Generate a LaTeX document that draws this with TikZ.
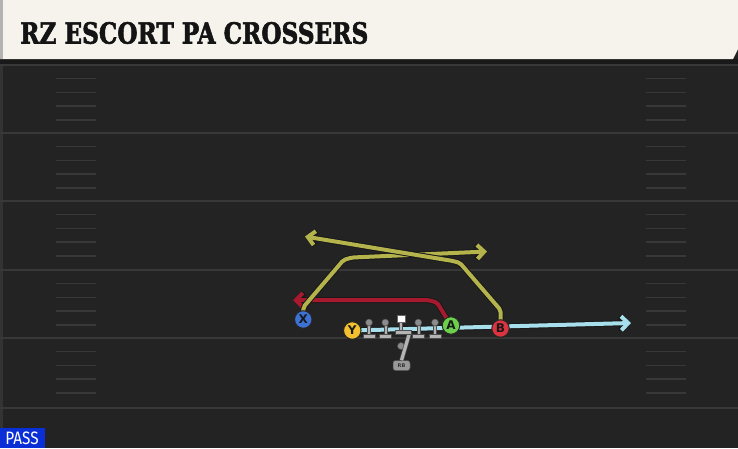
\documentclass[tikz,border=0pt]{standalone}
\usepackage{fontspec}
\setmainfont{DejaVu Serif}
\newfontfamily\titlefont[BoldFeatures={FakeBold=2.2}]{DejaVu Serif}
\newfontfamily\lblfont{DejaVu Sans}
\newfontfamily\passfont{Fira Sans}
\usetikzlibrary{arrows.meta}
\definecolor{fieldbg}{HTML}{232323}
\definecolor{fieldline}{HTML}{383838}
\definecolor{hdr}{HTML}{F5F3EC}
\definecolor{olive}{HTML}{B4B34C}
\definecolor{routered}{HTML}{A6192E}
\definecolor{routecyan}{HTML}{A8DFEC}
\definecolor{xblue}{HTML}{3C72D4}
\definecolor{yyellow}{HTML}{F2C12E}
\definecolor{agreen}{HTML}{6CD04A}
\definecolor{bred}{HTML}{DB3340}
\definecolor{olgray}{HTML}{B4B4B4}
\definecolor{olgraydk}{HTML}{8C8C8C}
\definecolor{passblue}{HTML}{0B2FD6}
\tikzset{
  yardline/.style={draw=fieldline, line width=2pt},
  hashline/.style={draw=fieldline, line width=1.5pt},
  player/.style={circle, draw=black!85, line width=1pt, minimum size=17.5pt, inner sep=0pt, font=\lblfont\bfseries\fontsize{12}{12}\selectfont, text=black!90},
  routeout/.style={draw=black!90, line width=6pt, rounded corners=2pt},
  routein/.style={line width=4pt, rounded corners=2pt},
  tip/.style={-{Straight Barb[length=7pt,width=14pt]}},
  olbody/.style={fill=olgray, draw=black!70, line width=0.5pt},
}
\begin{document}
\begin{tikzpicture}[x=1pt,y=-1pt]
\useasboundingbox (0,0) rectangle (738,448);
% field
\fill[fieldbg] (0,0) rectangle (738,448);
\fill[black!80] (0,59) rectangle (2.5,448);
\fill[black!90] (0,59) rectangle (738,64);
\foreach \y in {65,133,201,270,338,408} \draw[yardline] (0,\y) -- (738,\y);
\foreach \y in {65,133,201,270,338} {
  \foreach \k in {1,2,3,4} {
    \draw[hashline] (56,\y+\k*13.7) -- (96,\y+\k*13.7);
    \draw[hashline] (646,\y+\k*13.7) -- (686,\y+\k*13.7);
  }
}
% header
\fill[hdr] (0,0) -- (738,0) -- (738,49) -- (733,59) -- (0,59) -- cycle;
\fill[black!30] (0,0) rectangle (3,59);
\node[anchor=west, inner sep=0pt, text=black!92] (title) at (20,33)
  {\scalebox{0.8}[1]{\titlefont\bfseries\fontsize{29}{29}\selectfont RZ ESCORT PA CROSSERS}};
% pass label
\fill[passblue] (0,428) rectangle (45,448);
\node[text=white, inner sep=0pt] (pass) at (22,438.5) {\scalebox{0.85}[1]{\passfont\fontsize{18}{18}\selectfont PASS}};
% coordinates
\coordinate (xe) at (487,251.5);
\coordinate (be) at (305,236.5);
\coordinate (ae) at (293,300);
\coordinate (ye) at (631,323);
% players (positions)
\path (303.3,319.5) node[player, fill=xblue] (X) {X};
\path (352.3,330.5) node[player, fill=yyellow] (Y) {Y};
\path (451,325.5) node[player, fill=agreen] (A) {A};
\path (500.5,328.5) node[player, fill=bred] (B) {B};
% cyan route
\draw[routeout, tip] (Y.center) -- (ye);
\draw[routein, draw=routecyan, tip] (Y.center) -- (ye);
% red route
\draw[routeout, tip] (A.center) -- (437,302.5) -- (428,300) -- (ae);
\draw[routein, draw=routered, tip] (A.center) -- (437,302.5) -- (428,300) -- (ae);
% olive X route
\draw[routeout, tip] (X.center) -- (303.5,307) -- (343.5,260) -- (352,257.5) -- (xe);
\draw[routein, draw=olive, tip] (X.center) -- (303.5,307) -- (343.5,260) -- (352,257.5) -- (xe);
% olive B route
\draw[routeout, tip] (B.center) -- (500.5,310) -- (460,263) -- (453,261) -- (be);
\draw[routein, draw=olive, tip] (B.center) -- (500.5,310) -- (460,263) -- (453,261) -- (be);
% RB line
\node[circle, fill=olgraydk, draw=black!70, line width=0.5pt, minimum size=7pt, inner sep=0pt] (qb) at (401,346) {};
\node[rounded corners=2.5pt, fill=olgray!85!black, draw=black!70, line width=0.5pt, minimum width=17pt, minimum height=10pt, inner sep=0pt, font=\lblfont\bfseries\fontsize{5}{5}\selectfont, text=black!80] (rb) at (401.5,365.5) {RB};
\coordinate (cb) at (409.5,333);
\draw[draw=black!70, line width=4.5pt] (cb) -- (rb.north);
\draw[draw=olgray, line width=3.2pt] (cb) -- (rb.north);
% linemen
\foreach \lx/\nm in {369/l1,385.3/l2,418.3/l4,435/l5} {
  \fill[olbody] (\lx-1.5,325) rectangle (\lx+1.5,335);
  \fill[olbody] (\lx-6,334) rectangle (\lx+6,338);
  \node[circle, fill=olgraydk, draw=black!70, line width=0.5pt, minimum size=7pt, inner sep=0pt] (\nm) at (\lx,322.5) {};
}
% center
\fill[olbody] (399.5,321) rectangle (402.5,331);
\fill[olbody] (395,330) rectangle (411,334);
\node[fill=white, draw=black!60, line width=0.5pt, minimum size=7.5pt, inner sep=0pt] (c) at (401,318.5) {};
% redraw players on top
\path (303.3,319.5) node[player, fill=xblue] {X};
\path (352.3,330.5) node[player, fill=yyellow] {Y};
\path (451,325.5) node[player, fill=agreen] {A};
\path (500.5,328.5) node[player, fill=bred] {B};
\end{tikzpicture}
\end{document}
